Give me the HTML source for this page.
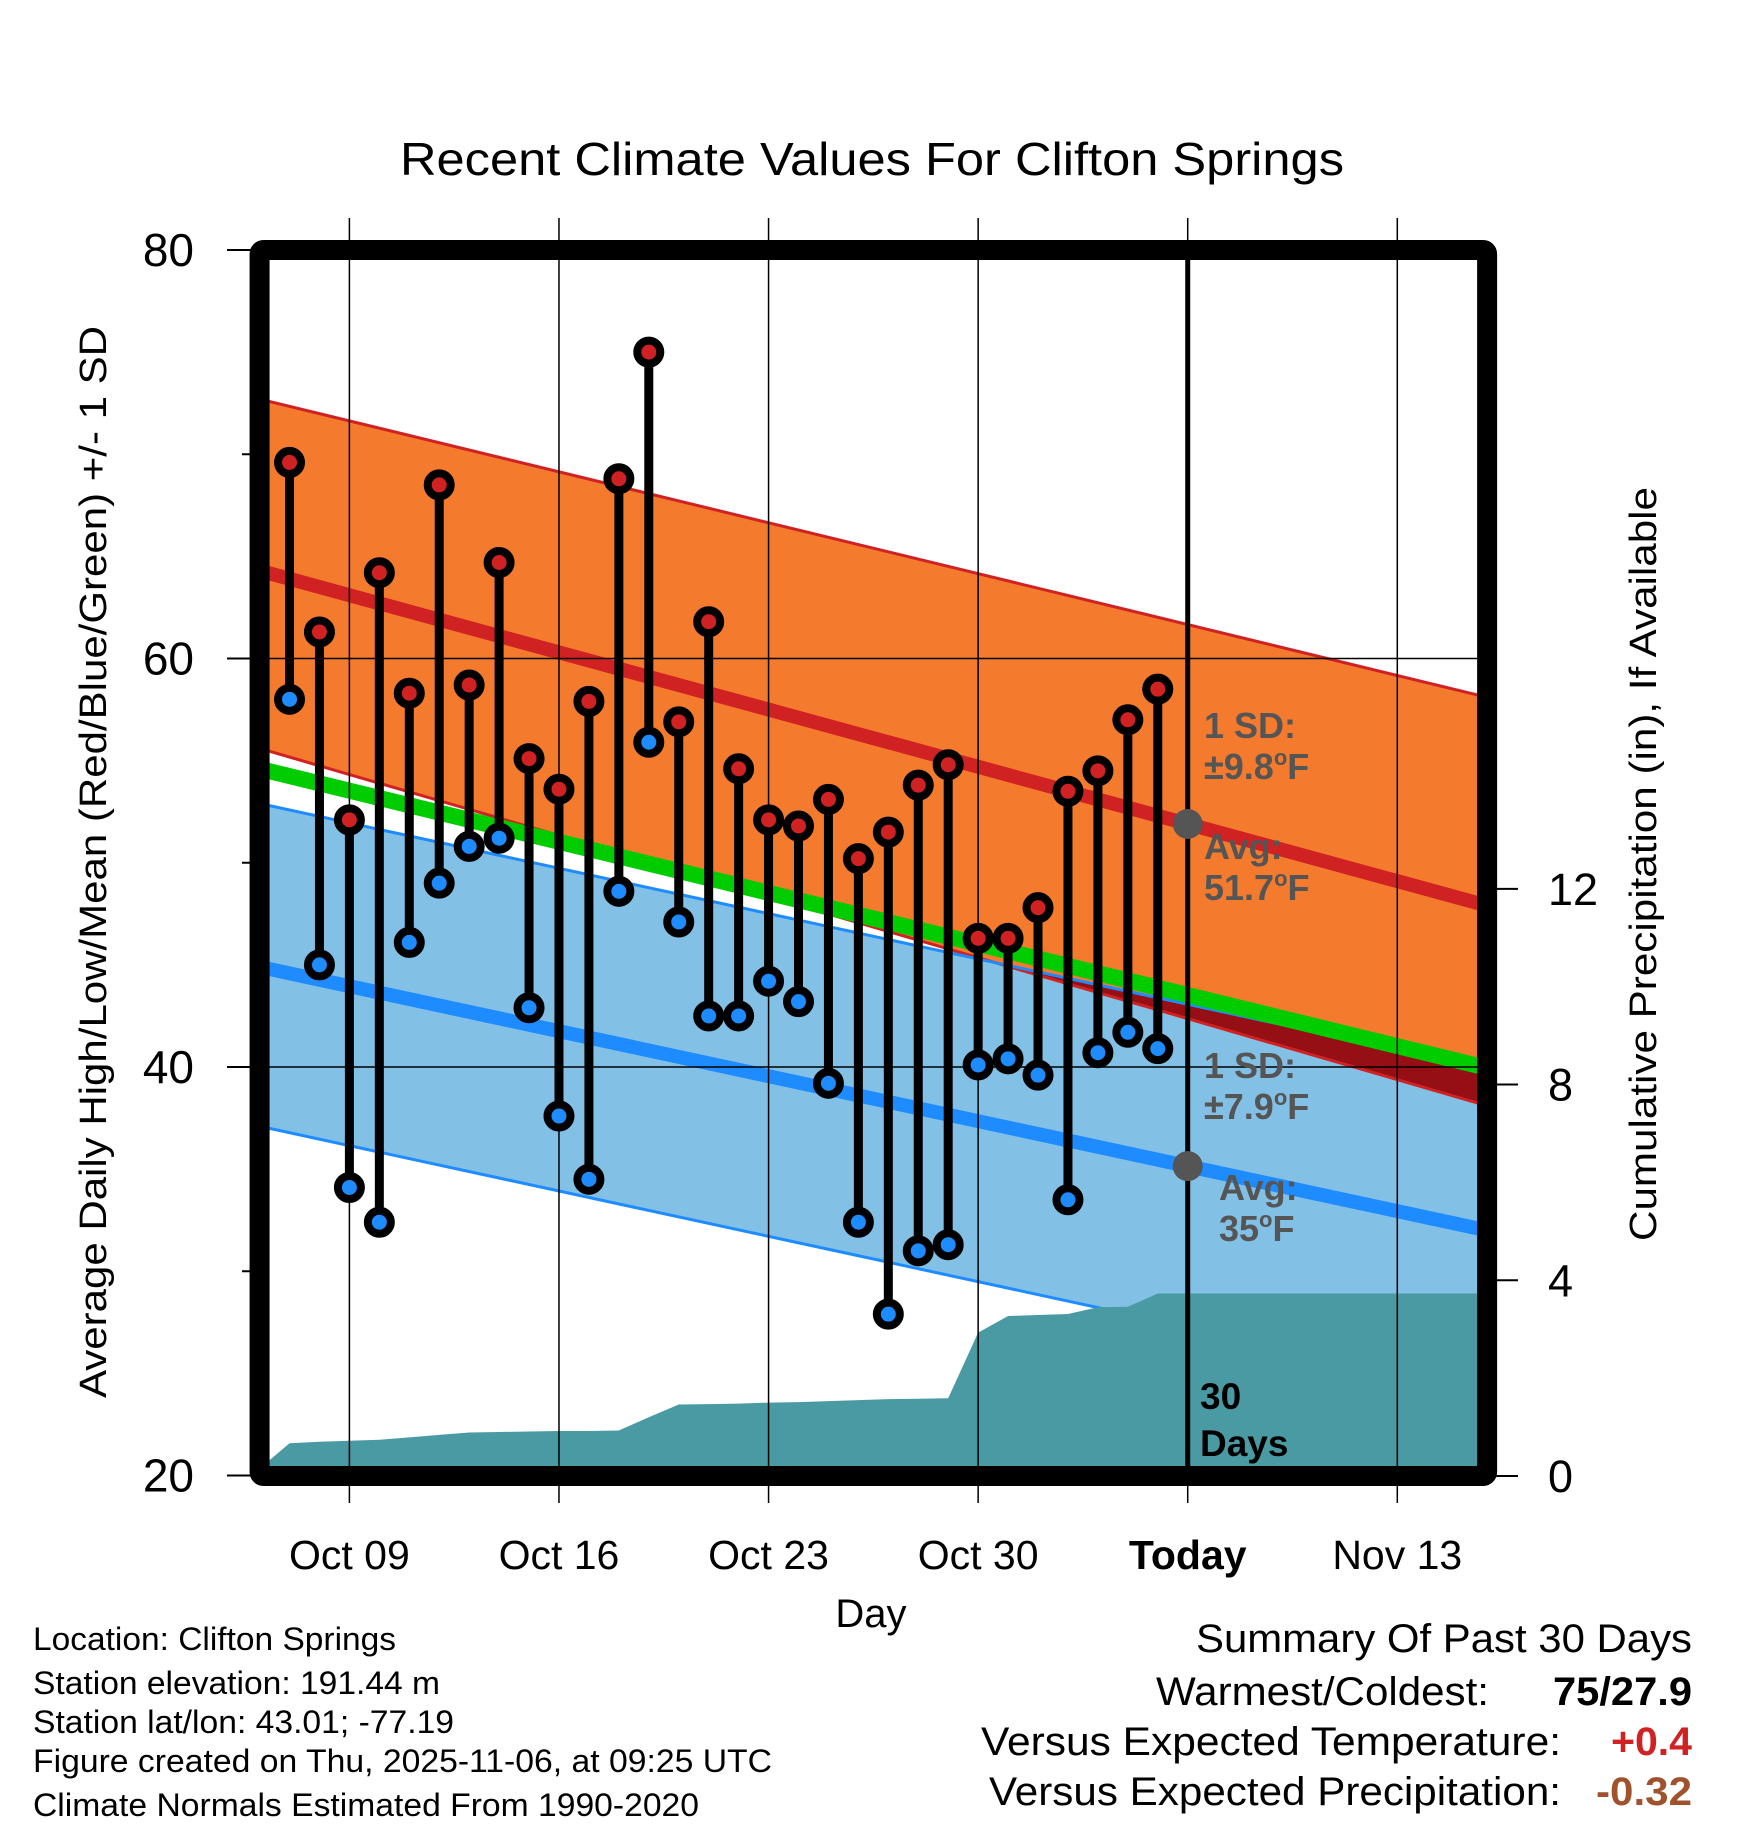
<!DOCTYPE html>
<html><head><meta charset="utf-8"><style>
html,body{margin:0;padding:0;background:#fff}
svg{display:block;font-family:"Liberation Sans",sans-serif}
</style></head><body>
<svg id="chart" width="1748" height="1828" viewBox="0 0 1748 1828" xmlns="http://www.w3.org/2000/svg"></svg>
<script>
// ---- data ----
const dayLabels = ["Oct 09","Oct 16","Oct 23","Oct 30","Today","Nov 13"];
const dayTicks = [0,7,14,21,28,35];           // day offsets from Oct 09
const tempTicks = [80,60,40,20];
const minorTempTicks = [70,50,30];
const precipTicks = [0,4,8,12];
const obsDays = [-2,-1,0,1,2,3,4,5,6,7,8,9,10,11,12,13,14,15,16,17,18,19,20,21,22,23,24,25,26,27];
const highs = [69.6,61.3,52.1,64.2,58.3,68.5,58.7,64.7,55.1,53.6,57.9,68.8,75.0,56.9,61.8,54.6,52.1,51.8,53.1,50.2,51.5,53.8,54.8,46.3,46.3,47.8,53.5,54.5,57.0,58.5];
const lows  = [58.0,45.0,34.1,32.4,46.1,49.0,50.8,51.2,42.9,37.6,34.5,48.6,55.9,47.1,42.5,42.5,44.2,43.2,39.2,32.4,27.9,31.0,31.3,40.1,40.4,39.6,33.5,40.7,41.7,40.9];
const precipDays = [-3,-2,-1,0,1,2,3,4,5,6,7,8,9,10,11,12,13,14,15,16,17,18,19,20,21,22,23,24,25,26,27,38];
const precipCum  = [0.15,0.67,0.70,0.72,0.74,0.79,0.84,0.89,0.90,0.91,0.92,0.92,0.93,1.20,1.46,1.47,1.48,1.50,1.51,1.53,1.55,1.57,1.58,1.59,2.93,3.27,3.29,3.31,3.45,3.46,3.73,3.73];
const normalDays = [-3,38];
const normHigh = [64.3,47.9];
const highUpper = [72.7,58.1];
const highLower = [55.6,38.1];
const normLow = [44.9,32.0];
const lowUpper = [52.9,39.9];
const lowLower = [37.1,24.1];
const todayDay = 28;

// ---- scales ----
const X0=349.4, DX=29.94, DMIN=-3, DMAX=38;
const x = d => X0 + d*DX;
const y = t => 250 + (80-t)*20.425;
const yp = p => 1476 - p*48.93;
const PL=x(DMIN), PR=x(DMAX), PT=250, PB=1476;

const svg=document.getElementById('chart');
const NS='http://www.w3.org/2000/svg';
function mk(tag,attrs,parent){const e=document.createElementNS(NS,tag);for(const k in attrs)e.setAttribute(k,attrs[k]);(parent||svg).appendChild(e);return e;}
function txt(s,attrs,parent){const e=mk('text',attrs,parent);e.textContent=s;return e;}

const defs=mk('defs',{});
const cp=mk('clipPath',{id:'plotclip'},defs);
mk('rect',{x:PL,y:PT,width:PR-PL,height:PB-PT},cp);
const plot=mk('g',{'clip-path':'url(#plotclip)'});



function lin(arr,d){return arr[0]+(arr[1]-arr[0])*(d-normalDays[0])/(normalDays[1]-normalDays[0]);}
const dA=normalDays[0], dB=normalDays[1];
function poly(u,l){return `${x(dA)},${y(u[0])} ${x(dB)},${y(u[1])} ${x(dB)},${y(l[1])} ${x(dA)},${y(l[0])}`;}

let e=mk('polygon',{points:poly(highUpper,highLower),fill:'#f47a2e'},plot);

e=mk('polygon',{points:poly(lowUpper,lowLower),fill:'#82c0e6'},plot);

// overlap (dark red)
{
  const uH=d=>lin(highLower,d), uL=d=>lin(lowUpper,d);
  const f0=uL(dA)-uH(dA), f1=uL(dB)-uH(dB);
  if(f1>0){
    const dc = f0>0?dA:dA+(dB-dA)*(-f0)/(f1-f0);
    e=mk('polygon',{points:`${x(dc)},${y(uH(dc))} ${x(dB)},${y(uL(dB))} ${x(dB)},${y(uH(dB))}`,fill:'#950f14'},plot);
    
  }
}
[[highUpper,'#d02222','high-upper-sd'],[highLower,'#d02222','high-lower-sd'],[lowUpper,'#1e8cff','low-upper-sd'],[lowLower,'#1e8cff','low-lower-sd']].forEach(a=>{
  const l=mk('line',{x1:x(dA),y1:y(a[0][0]),x2:x(dB),y2:y(a[0][1]),stroke:a[1],'stroke-width':3},plot);
  
});
e=mk('line',{x1:x(dA),y1:y(normHigh[0]),x2:x(dB),y2:y(normHigh[1]),stroke:'#d02222','stroke-width':14},plot);

e=mk('line',{x1:x(dA),y1:y(normLow[0]),x2:x(dB),y2:y(normLow[1]),stroke:'#1e8cff','stroke-width':14},plot);

e=mk('line',{x1:x(dA),y1:y((normHigh[0]+normLow[0])/2),x2:x(dB),y2:y((normHigh[1]+normLow[1])/2),stroke:'#00cc00','stroke-width':16},plot);


// precip area
{
  let pts=`${x(precipDays[0])},${yp(0)} `;
  precipDays.forEach((d,i)=>{pts+=`${x(d)},${yp(precipCum[i])} `;});
  pts+=`${x(precipDays[precipDays.length-1])},${yp(0)}`;
  e=mk('polygon',{points:pts,fill:'#4a9aa3'},plot);
  
}
dayTicks.forEach(d=>{const g=mk('line',{x1:x(d),y1:218,x2:x(d),y2:1503,stroke:'#000','stroke-width':1.5});});
[60,40].forEach(t=>{const g=mk('line',{x1:PL,y1:y(t),x2:PR,y2:y(t),stroke:'#000','stroke-width':1.5});});

e=mk('line',{x1:x(todayDay),y1:PT,x2:x(todayDay),y2:PB,stroke:'#000','stroke-width':5});


const obsG=mk('g',{});

obsDays.forEach((d,i)=>{
  const s=mk('line',{x1:x(d),y1:y(highs[i]),x2:x(d),y2:y(lows[i]),stroke:'#000','stroke-width':9},obsG);
  
  [[highs[i],'#d02222','high-point'],[lows[i],'#1e8cff','low-point']].forEach(p=>{
    const c=mk('circle',{cx:x(d),cy:y(p[0]),r:11.5,fill:p[1],stroke:'#000','stroke-width':8},obsG);
    
  });
});

[[lin(normHigh,todayDay),'today-high-normal-marker'],[lin(normLow,todayDay),'today-low-normal-marker']].forEach(a=>{
  const c=mk('circle',{cx:x(todayDay),cy:y(a[0]),r:15,fill:'#555'});
  
});

function ann(lines,xx,yy,name){const g=mk('g',{});
  lines.forEach((l,i)=>{const t=mk('text',{x:xx,y:yy+i*41,'font-size':36,'font-weight':'bold',fill:'#555'},g);t.innerHTML=l;});}
ann(['1 SD:','±9.8<tspan dy="-14" font-size="22">o</tspan><tspan dy="14">F</tspan>'],1204,738,'high-sd-label');
ann(['Avg:','51.7<tspan dy="-14" font-size="22">o</tspan><tspan dy="14">F</tspan>'],1204,859,'high-avg-label');
ann(['1 SD:','±7.9<tspan dy="-14" font-size="22">o</tspan><tspan dy="14">F</tspan>'],1204,1078,'low-sd-label');
ann(['Avg:','35<tspan dy="-14" font-size="22">o</tspan><tspan dy="14">F</tspan>'],1219,1200,'low-avg-label');
ann(['30','Days'],1200,1409,'days-label');
svg.lastChild.setAttribute('fill','#000');
[...svg.lastChild.children].forEach(t=>{t.setAttribute('fill','#000');t.setAttribute('font-size','37');});
svg.lastChild.children[1].setAttribute('y',1456);

e=mk('rect',{x:PL,y:PT,width:PR-PL,height:PB-PT,fill:'none',stroke:'#000','stroke-width':20,rx:4});


tempTicks.forEach(t=>{
  const l=mk('line',{x1:227,y1:y(t),x2:PL,y2:y(t),stroke:'#000','stroke-width':2});
  
  const tt=txt(String(t),{x:194,y:y(t)+16,'font-size':46,'text-anchor':'end'});
  
});
minorTempTicks.forEach(t=>{const l=mk('line',{x1:242,y1:y(t),x2:PL,y2:y(t),stroke:'#000','stroke-width':2});});
precipTicks.forEach(p=>{
  const l=mk('line',{x1:PR,y1:yp(p),x2:1518,y2:yp(p),stroke:'#000','stroke-width':2});
  
  const tt=txt(String(p),{x:1548,y:yp(p)+16,'font-size':45});
  
});
dayLabels.forEach((s,i)=>{
  const tt=txt(s,{x:x(dayTicks[i]),y:1569,'font-size':41,'text-anchor':'middle','font-weight':s==='Today'?'bold':'normal'});
  
});
let t;
t=txt('Recent Climate Values For Clifton Springs',{x:872,y:175,'font-size':46,'text-anchor':'middle',textLength:944,lengthAdjust:'spacingAndGlyphs'});

t=txt('Day',{x:871,y:1627,'font-size':40,'text-anchor':'middle'});

t=txt('Average Daily High/Low/Mean (Red/Blue/Green) +/- 1 SD',{x:0,y:0,'font-size':38,'text-anchor':'middle',textLength:1072,lengthAdjust:'spacingAndGlyphs',transform:'translate(106,862) rotate(-90)'});

t=txt('Cumulative Precipitation (in), If Available',{x:0,y:0,'font-size':38,'text-anchor':'middle',textLength:754,lengthAdjust:'spacingAndGlyphs',transform:'translate(1656,864) rotate(-90)'});


const info=[['Location: Clifton Springs',363,1650],['Station elevation: 191.44 m',407,1694],['Station lat/lon: 43.01; -77.19',421,1733],['Figure created on Thu, 2025-11-06, at 09:25 UTC',739,1772],['Climate Normals Estimated From 1990-2020',666,1816]];
info.forEach(a=>{t=txt(a[0],{x:33,y:a[2],'font-size':32,textLength:a[1],lengthAdjust:'spacingAndGlyphs'});});

const sum=[['Summary Of Past 30 Days',1692,1652,496,'#000','normal'],['Warmest/Coldest:',1489,1705,333,'#000','normal'],['75/27.9',1692,1705,139,'#000','bold'],['Versus Expected Temperature:',1561,1755,580,'#000','normal'],['+0.4',1692,1755,81,'#d02222','bold'],['Versus Expected Precipitation:',1561,1805,572,'#000','normal'],['-0.32',1692,1805,96,'#a0522d','bold']];
sum.forEach(a=>{t=txt(a[0],{x:a[1],y:a[2],'font-size':40,'text-anchor':'end',fill:a[4],'font-weight':a[5],textLength:a[3],lengthAdjust:'spacingAndGlyphs'});});
</script>
</body></html>
